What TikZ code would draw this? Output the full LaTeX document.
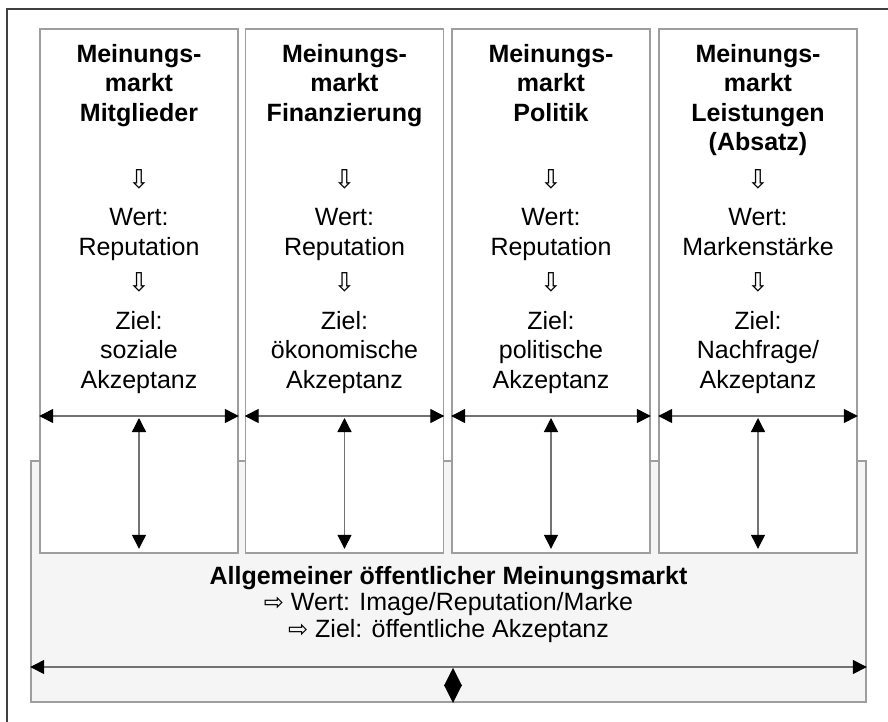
\documentclass[tikz,border=0pt]{standalone}
\usepackage{fontspec}
\setmainfont{Liberation Sans}
\newfontfamily\arrowfont{DejaVu Sans}
\usetikzlibrary{arrows.meta,positioning}
\newcommand{\dn}{{\arrowfont\fontsize{26}{26}\selectfont ⇩}}
\newcommand{\rt}{{\arrowfont\fontsize{24}{24}\selectfont ⇨}}

\begin{document}
\begin{tikzpicture}[x=1pt,y=-1pt,
  box/.style={draw=black!38,line width=1.6pt},
  col/.style={box,fill=white,minimum width=198pt,minimum height=524pt,inner sep=0pt},
  txt/.style={align=center,inner sep=0pt,anchor=north,font=\fontsize{25}{29.5}\selectfont},
  dbl/.style={draw=black!55,line width=1.3pt,{Triangle[length=14pt,width=14pt,color=black]}-{Triangle[length=14pt,width=14pt,color=black]}},
  dia/.style={line width=0.4pt,{Triangle[length=18pt,width=18pt]}-{Triangle[length=18pt,width=18pt]}}]
\useasboundingbox (0,0) rectangle (888,722);
% outer frame
\draw[black!75,line width=1.5pt] (7,722) -- (7,9) -- (888,9);
% general market
\node[box,fill=black!4,minimum width=835pt,minimum height=241pt,inner sep=0pt] (gen) at (448.5,581.5) {};
\node[txt] (gentxt) at (448.5,566) {\textbf{Allgemeiner öffentlicher Meinungsmarkt}\\[-3pt]
  \rt\ Wert: Image/Reputation/Marke\\[-3pt] \rt\ Ziel: öffentliche Akzeptanz};
\coordinate (hy) at (0,416);
\coordinate (vy) at (0,418);
\coordinate (gy) at (0,667);
\coordinate (dx) at (453,668);
\draw[dbl] (gen.west |- gy) -- (gen.east |- gy);
\draw[dia] (dx) -- (gen.south -| dx);
% markets
\foreach \i/\cx/\ttl/\wert/\ziel in {
  1/139/{\textbf{Mitglieder}\\~}/Reputation/{soziale\\Akzeptanz},
  2/344.5/{\textbf{Finanzierung}\\~}/Reputation/{ökonomische\\Akzeptanz},
  3/551/{\textbf{Politik}\\~}/Reputation/{politische\\Akzeptanz},
  4/758/{\textbf{Leistungen}\\\textbf{(Absatz)}}/Markenstärke/{Nachfrage/\\Akzeptanz}}{
  \node[col] (c\i) at (\cx,291) {};
  \node[txt] (t\i) at (\cx,44) {\textbf{Meinungs-}\\\textbf{markt}\\\ttl\\[8pt] \dn\\[8pt]
    Wert:\\\wert\\[7pt] \dn\\[8pt] Ziel:\\\ziel};
  \draw[dbl] (c\i.west |- hy) -- (c\i.east |- hy);
  \draw[dbl] (c\i.center |- vy) -- ([yshift=5pt]c\i.south);
}
\end{tikzpicture}
\end{document}
